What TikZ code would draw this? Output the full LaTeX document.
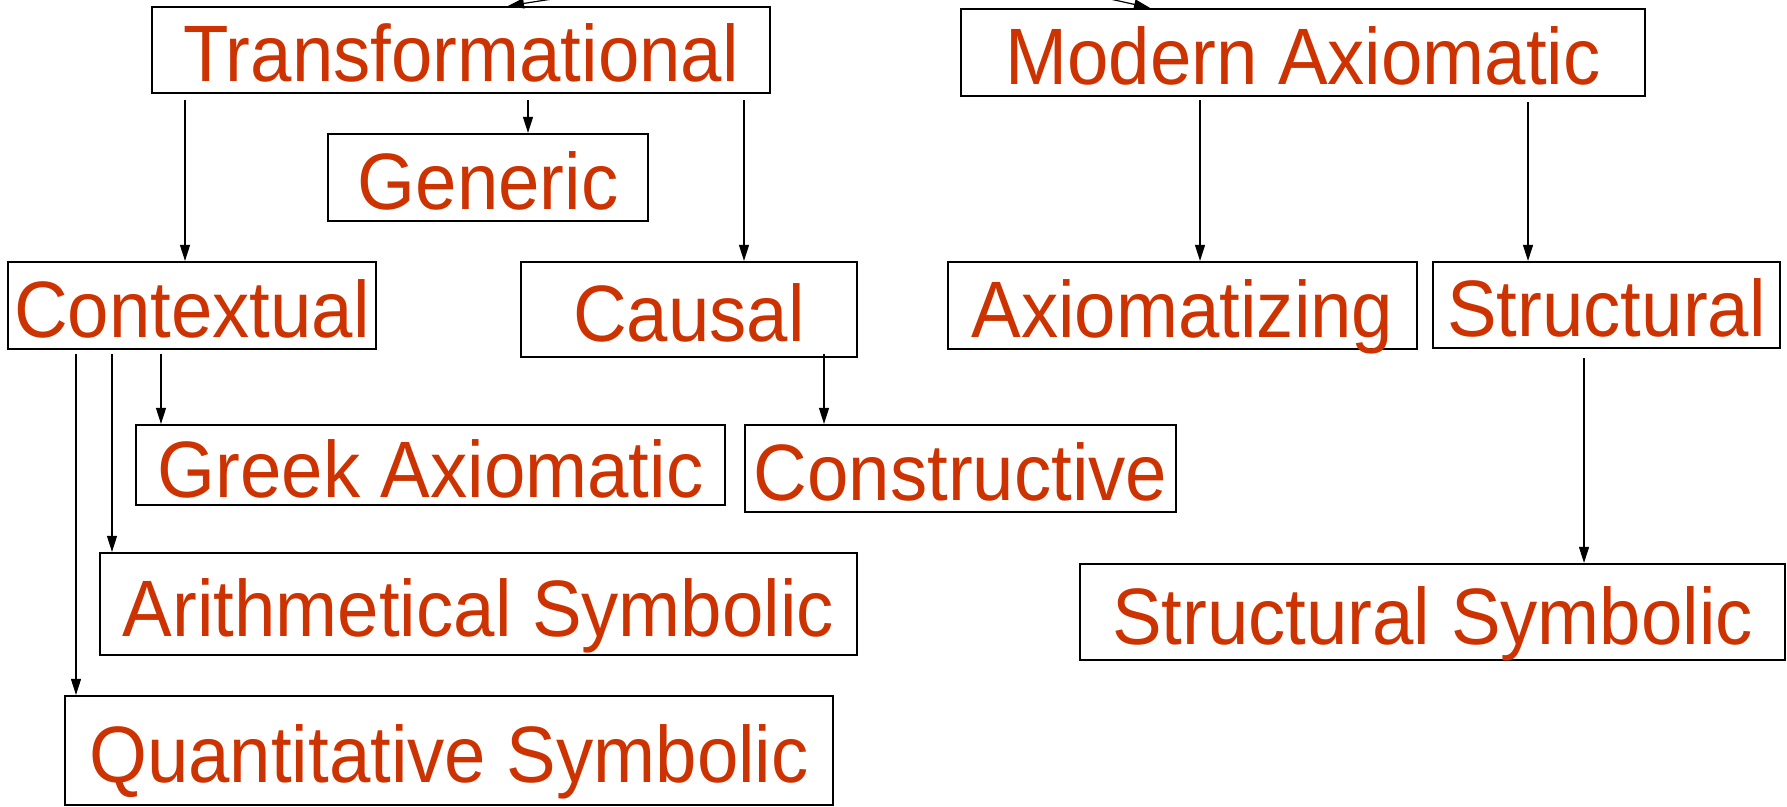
\documentclass[tikz,border=0pt]{standalone}
\usepackage{fontspec}
\setmainfont{Liberation Sans}[FakeStretch=0.93]
\usetikzlibrary{arrows.meta}
\definecolor{labred}{RGB}{204,51,0}
\begin{document}
\begin{tikzpicture}[x=0.5pt,y=-0.5pt,
  box/.style={draw=black,line width=1.1pt,inner sep=0pt,text=labred,
    font=\fontsize{40}{48}\selectfont,text height=32pt,text depth=0pt,anchor=center},
  arr/.style={draw=black,line width=0.6pt,-{Triangle[length=8pt,width=5pt]}}]
\useasboundingbox (0,0) rectangle (1787,807);
\clip (0,0) rectangle (1787,807);
% boxes
\node[box,minimum width=309pt,minimum height=43pt]   (trans)  at (461,50)     {Transformational};
\node[box,minimum width=342pt,minimum height=43.5pt] (modern) at (1303,52.5)  {Modern Axiomatic};
\node[box,minimum width=160pt,minimum height=43.5pt] (generic) at (488,177.5) {Generic};
\node[box,minimum width=184pt,minimum height=43.5pt] (context) at (192,305.5) {Contextual};
\node[box,minimum width=168pt,minimum height=47.5pt] (causal) at (689,309.5)  {Causal};
\node[box,minimum width=234.5pt,minimum height=43.5pt] (axiomz) at (1182.5,305.5) {Axiomatizing};
\node[box,minimum width=173.5pt,minimum height=43pt] (struct) at (1606.5,305)  {Structural};
\node[box,minimum width=294.5pt,minimum height=40pt] (greek) at (430.5,465)    {Greek Axiomatic};
\node[box,minimum width=215.5pt,minimum height=43.5pt] (constr) at (960.5,468.5) {Constructive};
\node[box,minimum width=378.5pt,minimum height=51pt] (arith) at (478.5,604)    {Arithmetical Symbolic};
\node[box,minimum width=352.5pt,minimum height=48pt] (structsym) at (1432.5,612) {Structural Symbolic};
\node[box,minimum width=384pt,minimum height=54.5pt] (quant) at (449,750.5)    {Quantitative Symbolic};
% x positions of connectors
\coordinate (xa) at (185,0);
\coordinate (xb) at (528,0);
\coordinate (xc) at (744,0);
\coordinate (xd) at (1200,0);
\coordinate (xe) at (1528,0);
\coordinate (xf) at (161,0);
\coordinate (xg) at (112,0);
\coordinate (xh) at (76,0);
\coordinate (xi) at (824,0);
\coordinate (xj) at (1584,0);
\coordinate (tt) at (508,0);
\coordinate (tm) at (1150,0);
\coordinate (ina) at (578,-5);
\coordinate (inb) at (1092,-5);
% connectors
\draw[arr] (ina) -- (trans.north -| tt);
\draw[arr] (inb) -- (modern.north -| tm);
\draw[arr,shorten <=3pt] (trans.south -| xa) -- (context.north -| xa);
\draw[arr,shorten <=3pt] (trans.south -| xb) -- (generic.north -| xb);
\draw[arr,shorten <=3pt] (trans.south -| xc) -- (causal.north -| xc);
\draw[arr,shorten <=1.5pt] (modern.south -| xd) -- (axiomz.north -| xd);
\draw[arr,shorten <=2.5pt] (modern.south -| xe) -- (struct.north -| xe);
\draw[arr,shorten <=2pt] (context.south -| xf) -- (greek.north -| xf);
\draw[arr,shorten <=2pt] (context.south -| xg) -- (arith.north -| xg);
\draw[arr,shorten <=2pt] (context.south -| xh) -- (quant.north -| xh);
\draw[arr,shorten <=-2pt] (causal.south -| xi) -- (constr.north -| xi);
\draw[arr,shorten <=4.5pt] (struct.south -| xj) -- (structsym.north -| xj);
\end{tikzpicture}
\end{document}
